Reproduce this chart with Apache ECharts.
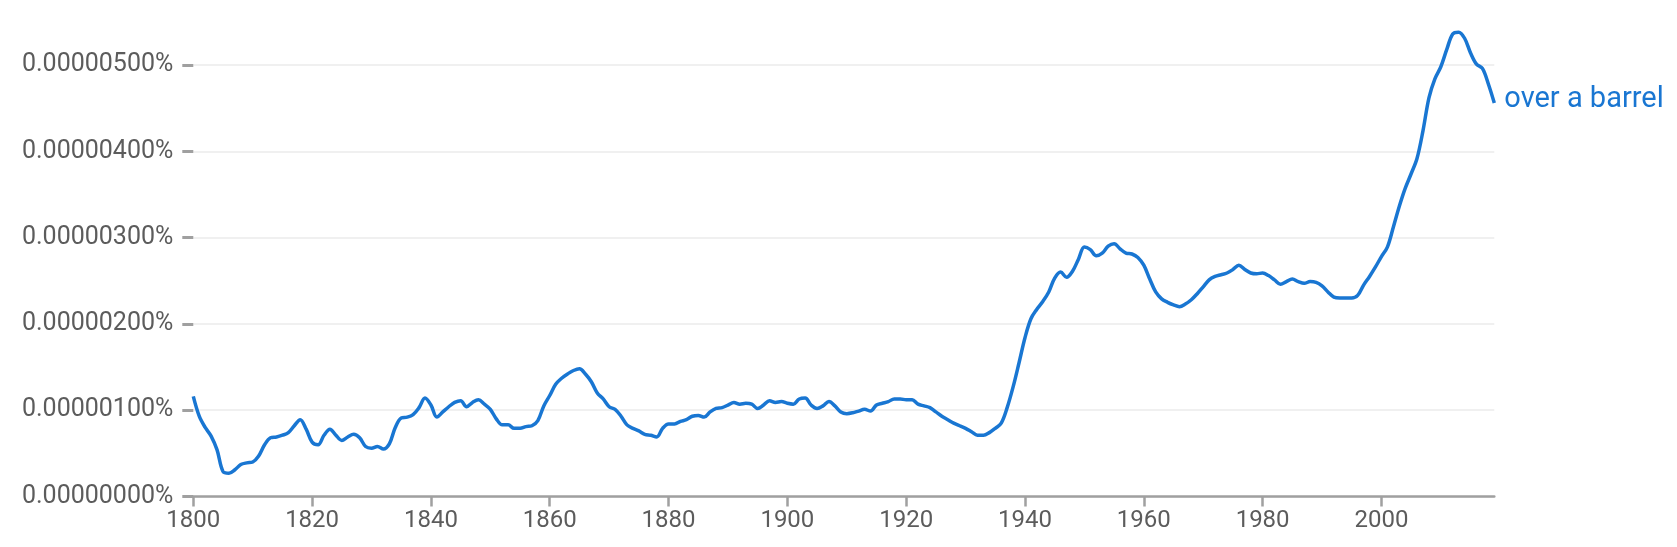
<!DOCTYPE html>
<html>
<head>
<meta charset="utf-8">
<script src="https://cdn.jsdelivr.net/npm/echarts@6/dist/echarts.min.js"></script>
<style>
  html, body { margin: 0; padding: 0; background: #ffffff; }
  #chart { width: 1677px; height: 547px; }
</style>
</head>
<body>
<div id="chart"></div>
<script>
// Series name
const seriesName = 'over a barrel';

// First year of the data (one value per year)
const startYear = 1800;

// Values in units of 0.000001 % (e.g. 5 -> 0.00000500%)
const values = [
  1.16, 0.93, 0.80, 0.70, 0.54, 0.29, 0.27, 0.31, 0.37, 0.39, // 1800-1809
  0.40, 0.47, 0.60, 0.68, 0.69, 0.71, 0.74, 0.82, 0.89, 0.78, // 1810-1819
  0.63, 0.60, 0.71, 0.78, 0.71, 0.65, 0.69, 0.72, 0.68, 0.58, // 1820-1829
  0.56, 0.58, 0.55, 0.61, 0.80, 0.91, 0.92, 0.95, 1.03, 1.14, // 1830-1839
  1.06, 0.92, 0.98, 1.04, 1.09, 1.11, 1.04, 1.09, 1.12, 1.07, // 1840-1849
  1.01, 0.90, 0.83, 0.83, 0.79, 0.79, 0.81, 0.82, 0.88, 1.05, // 1850-1859
  1.17, 1.30, 1.37, 1.42, 1.46, 1.48, 1.42, 1.33, 1.20, 1.13, // 1860-1869
  1.04, 1.01, 0.93, 0.83, 0.79, 0.76, 0.72, 0.71, 0.69, 0.79, // 1870-1879
  0.84, 0.84, 0.87, 0.89, 0.93, 0.94, 0.92, 0.98, 1.02, 1.03, // 1880-1889
  1.06, 1.09, 1.07, 1.08, 1.07, 1.02, 1.06, 1.11, 1.09, 1.10, // 1890-1899
  1.08, 1.07, 1.13, 1.14, 1.06, 1.02, 1.05, 1.10, 1.05, 0.98, // 1900-1909
  0.96, 0.97, 0.99, 1.01, 0.99, 1.06, 1.08, 1.10, 1.13, 1.13, // 1910-1919
  1.12, 1.12, 1.07, 1.05, 1.03, 0.98, 0.93, 0.89, 0.85, 0.82, // 1920-1929
  0.79, 0.75, 0.71, 0.71, 0.74, 0.79, 0.85, 1.03, 1.27, 1.55, // 1930-1939
  1.84, 2.06, 2.17, 2.26, 2.37, 2.53, 2.60, 2.54, 2.61, 2.75, // 1940-1949
  2.89, 2.86, 2.79, 2.82, 2.90, 2.93, 2.87, 2.82, 2.81, 2.77, // 1950-1959
  2.68, 2.52, 2.37, 2.29, 2.25, 2.22, 2.20, 2.23, 2.28, 2.35, // 1960-1969
  2.43, 2.51, 2.55, 2.57, 2.59, 2.63, 2.68, 2.63, 2.59, 2.58, // 1970-1979
  2.59, 2.56, 2.51, 2.46, 2.49, 2.52, 2.49, 2.47, 2.49, 2.48, // 1980-1989
  2.44, 2.37, 2.31, 2.30, 2.30, 2.30, 2.33, 2.45, 2.55, 2.66, // 1990-1999
  2.78, 2.89, 3.12, 3.36, 3.57, 3.74, 3.92, 4.24, 4.62, 4.84, // 2000-2009
  4.98, 5.18, 5.36, 5.38, 5.31, 5.14, 5.01, 4.96, 4.78, 4.56  // 2010-2019
];

// Tick values
const xTicks = [1800, 1820, 1840, 1860, 1880, 1900, 1920, 1940, 1960, 1980, 2000];
const yTicks = [0, 1, 2, 3, 4, 5];

const years = values.map((v, i) => startYear + i);
const seriesData = years.map((y, i) => [y, values[i]]);

const chart = echarts.init(document.getElementById('chart'), null, { renderer: 'canvas' });

const labelColor = '#5c5c5c';
const axisGray = '#a0a0a0';
const lineBlue = '#1976D2';

chart.setOption({
  animation: false,
  backgroundColor: '#ffffff',
  textStyle: { fontFamily: 'Roboto' },
  grid: { left: 193.3, right: 182.7, top: 65, bottom: 50.5, containLabel: false },
  xAxis: {
    type: 'value',
    min: xTicks[0],
    max: years[years.length - 1],
    interval: 20,
    axisLine: { show: true, lineStyle: { color: axisGray, width: 2.5 } },
    axisTick: { show: true, length: 10, lineStyle: { color: axisGray, width: 2.5 }, customValues: xTicks },
    axisLabel: {
      color: labelColor, fontSize: 24, fontFamily: 'Roboto', margin: 12,
      customValues: xTicks,
      formatter: v => String(v)
    },
    splitLine: { show: false }
  },
  yAxis: {
    type: 'value',
    min: yTicks[0],
    max: yTicks[yTicks.length - 1],
    interval: 1,
    axisLine: { show: false },
    axisTick: { show: true, length: 11, lineStyle: { color: axisGray, width: 3 } },
    axisLabel: {
      color: labelColor, fontSize: 25, fontFamily: 'Roboto', margin: 20,
      formatter: v => (v / 1e6).toFixed(8) + '%'
    },
    splitLine: { show: true, lineStyle: { color: '#f0f0f0', width: 2 } }
  },
  series: [{
    name: seriesName,
    type: 'line',
    data: seriesData,
    smooth: 0.35,
    clip: false,
    symbol: 'none',
    lineStyle: { color: lineBlue, width: 3.5 },
    endLabel: {
      show: true,
      formatter: seriesName,
      color: lineBlue,
      fontSize: 29,
      fontFamily: 'Roboto',
      distance: 10,
      offset: [0, -3]
    }
  }]
});
</script>
</body>
</html>
